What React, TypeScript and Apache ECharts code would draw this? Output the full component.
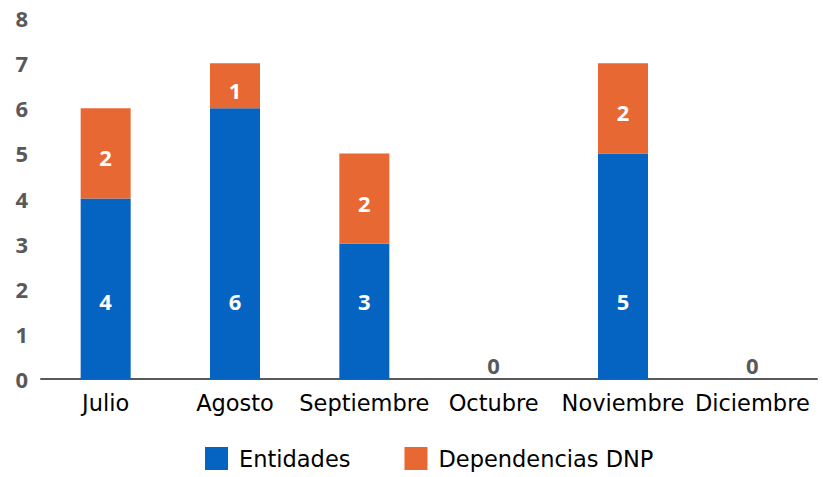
import React, { useEffect, useRef } from "react";
import * as echarts from "echarts";

const categories = ["Julio", "Agosto", "Septiembre", "Octubre", "Noviembre", "Diciembre"];
const entidades = [4, 6, 3, 0, 5, 0];
const dependencias = [2, 1, 2, 0, 2, 0];
const yTicks = { min: 0, max: 8, interval: 1 };

const FONT = "Open Sans";
const TXT_FONT = "DejaVu Sans";
const BLUE = "#0563C1";
const ORANGE = "#E86834";
const GRAY = "#595959";

export default function App() {
  const ref = useRef<HTMLDivElement>(null);
  useEffect(() => {
    if (!ref.current) return;
    const chart = echarts.init(ref.current, null, { renderer: "svg" });
    chart.setOption({
      animation: false,
      textStyle: { fontFamily: FONT },
      grid: { left: 41, right: 6, top: 18, bottom: 98, containLabel: false },
      legend: {
        left: 200,
        bottom: 2,
        itemWidth: 23,
        itemHeight: 23,
        itemGap: 54,
        icon: "rect",
        textStyle: { fontSize: 22.5, color: "#000", fontFamily: TXT_FONT, padding: [0, 0, 0, 6] },
        data: ["Entidades", "Dependencias DNP"],
      },
      xAxis: {
        type: "category",
        data: categories,
        axisLine: { lineStyle: { color: GRAY, width: 2 } },
        axisTick: { show: false },
        axisLabel: { color: "#000", fontSize: 22.5, fontFamily: TXT_FONT, margin: 12, interval: 0 },
      },
      yAxis: {
        type: "value",
        min: yTicks.min,
        max: yTicks.max,
        interval: yTicks.interval,
        splitLine: { show: false },
        axisLine: { show: false },
        axisTick: { show: false },
        axisLabel: { color: GRAY, fontSize: 22, fontWeight: "bold", fontFamily: FONT, margin: 13 },
      },
      series: [
        {
          name: "Entidades",
          type: "bar",
          stack: "total",
          barWidth: 50,
          itemStyle: { color: BLUE },
          data: entidades.map((v) =>
            v === 0
              ? { value: v, label: { position: "top", color: GRAY, distance: 3 } }
              : { value: v }
          ),
          label: {
            show: true,
            position: "insideBottom",
            distance: 67,
            color: "#fff",
            fontSize: 22,
            fontWeight: "bold",
            fontFamily: FONT,
          },
        },
        {
          name: "Dependencias DNP",
          type: "bar",
          stack: "total",
          barWidth: 50,
          itemStyle: { color: ORANGE },
          data: dependencias,
          label: {
            show: true,
            position: "inside",
            offset: [0, 4],
            color: "#fff",
            fontSize: 22,
            fontWeight: "bold",
            fontFamily: FONT,
            formatter: (p: any) => (p.value === 0 ? "" : String(p.value)),
          },
        },
      ],
    });
    return () => chart.dispose();
  }, []);
  return <div ref={ref} style={{ width: 823, height: 477, position: "absolute", left: 0, top: 0 }} />;
}
